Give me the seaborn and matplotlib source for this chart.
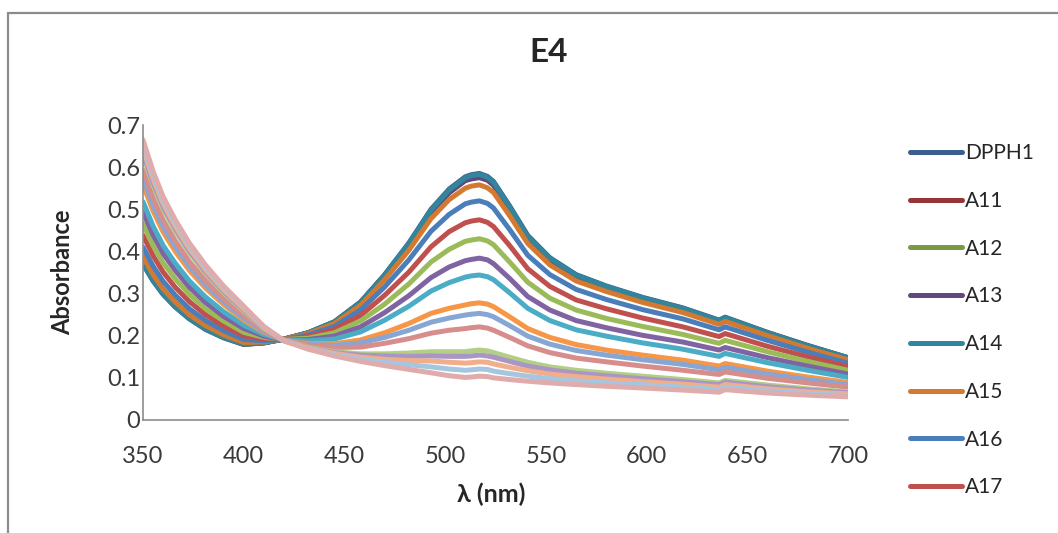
import pandas as pd
import matplotlib
matplotlib.use("Agg")
import matplotlib.pyplot as plt
import seaborn as sns
from matplotlib.lines import Line2D
from matplotlib.patches import Rectangle

wavelength = [350, 355, 360, 366, 373, 381, 390, 400, 410, 420, 432, 445, 458, 470, 482, 493,
              502, 510, 513, 517, 521, 524, 532, 541, 552, 565, 580, 598, 618, 636, 639, 660, 680, 700]

dpph1 = [.370, .330, .298, .268, .240, .215, .195, .179, .183, .192, .207, .233, .280, .345, .420, .500,
         .548, .577, .582, .585, .578, .566, .508, .438, .385, .345, .318, .291, .266, .237, .244, .208, .177, .148]
a11 = [.373, .333, .300, .270, .242, .217, .196, .180, .183, .192, .207, .232, .279, .343, .417, .496,
       .544, .572, .577, .580, .573, .561, .504, .435, .382, .342, .316, .289, .264, .235, .242, .207, .176, .147]
a12 = [.374, .334, .301, .271, .243, .217, .197, .180, .184, .192, .206, .232, .278, .342, .416, .494,
       .541, .570, .575, .578, .571, .559, .502, .433, .381, .341, .314, .288, .263, .234, .241, .206, .175, .147]
a13 = [.376, .335, .303, .272, .244, .218, .198, .181, .184, .192, .206, .231, .277, .341, .414, .492,
       .539, .568, .572, .575, .569, .557, .500, .431, .379, .340, .313, .287, .262, .234, .241, .205, .175, .146]
a14 = [.371, .331, .299, .269, .241, .216, .196, .180, .183, .192, .207, .233, .279, .344, .419, .498,
       .546, .575, .580, .583, .576, .564, .506, .436, .384, .344, .317, .290, .265, .236, .243, .207, .176, .148]
a15 = [.387, .345, .311, .280, .250, .224, .202, .184, .185, .192, .205, .229, .272, .333, .403, .478,
       .523, .550, .555, .558, .551, .540, .485, .419, .368, .330, .305, .279, .255, .227, .234, .200, .170, .143]
a16 = [.410, .365, .329, .296, .264, .236, .212, .191, .188, .191, .202, .222, .261, .316, .380, .448,
       .488, .513, .517, .520, .514, .503, .452, .391, .345, .310, .286, .262, .240, .214, .221, .189, .161, .135]
a17 = [.438, .390, .351, .315, .281, .250, .223, .200, .192, .191, .198, .215, .248, .296, .351, .411,
       .447, .468, .472, .475, .469, .459, .414, .359, .317, .285, .264, .242, .221, .198, .205, .175, .150, .127]
a18 = [.465, .414, .373, .335, .298, .264, .235, .208, .196, .191, .194, .207, .235, .275, .323, .375,
       .405, .424, .427, .430, .425, .416, .375, .327, .289, .261, .241, .222, .203, .182, .189, .162, .139, .118]
a19 = [.493, .439, .395, .355, .315, .279, .246, .217, .199, .190, .191, .199, .221, .255, .295, .338,
       .363, .378, .381, .384, .380, .371, .336, .293, .261, .236, .219, .201, .185, .166, .172, .148, .128, .109]
a110 = [.518, .460, .414, .372, .330, .292, .257, .225, .203, .190, .188, .192, .209, .237, .270, .306,
        .326, .339, .342, .344, .340, .333, .302, .265, .236, .214, .199, .183, .168, .151, .158, .136, .118, .101]
a111 = [.558, .496, .446, .400, .355, .313, .274, .237, .208, .189, .182, .181, .190, .207, .229, .253,
        .265, .273, .276, .278, .275, .269, .245, .217, .196, .179, .166, .154, .142, .128, .134, .116, .102, .089]
a112 = [.574, .509, .458, .411, .364, .321, .280, .242, .210, .189, .180, .177, .183, .196, .213, .232,
        .242, .249, .251, .253, .250, .245, .224, .199, .180, .165, .154, .143, .132, .119, .125, .109, .096, .084]
a113 = [.593, .527, .474, .425, .376, .331, .288, .248, .213, .189, .178, .172, .173, .182, .193, .206,
        .213, .217, .219, .221, .218, .213, .196, .176, .160, .147, .138, .128, .118, .108, .114, .099, .088, .078]
a114 = [.627, .557, .500, .448, .397, .348, .302, .258, .217, .189, .173, .162, .157, .157, .159, .162,
        .162, .162, .164, .166, .164, .160, .149, .137, .126, .118, .111, .104, .096, .088, .094, .083, .074, .067]
a115 = [.634, .563, .506, .454, .401, .352, .305, .261, .218, .188, .172, .160, .154, .152, .151, .152,
        .151, .151, .152, .154, .152, .149, .139, .128, .119, .111, .105, .098, .091, .084, .090, .079, .071, .065]
a116 = [.644, .572, .514, .460, .407, .357, .309, .264, .219, .188, .171, .158, .149, .144, .141, .140,
        .137, .135, .136, .138, .137, .133, .125, .117, .109, .103, .097, .091, .085, .078, .084, .074, .067, .062]
a117 = [.655, .581, .522, .468, .414, .363, .314, .267, .221, .188, .169, .155, .144, .137, .131, .126,
        .121, .118, .119, .121, .120, .116, .110, .104, .098, .093, .088, .084, .078, .072, .078, .069, .063, .058]
a118 = [.665, .590, .530, .475, .420, .368, .318, .270, .222, .188, .168, .152, .139, .129, .120, .112,
        .105, .101, .102, .104, .103, .100, .096, .092, .088, .084, .080, .076, .071, .066, .072, .064, .059, .055]

samples = ["DPPH1", "A11", "A12", "A13", "A14", "A15", "A16", "A17", "A18", "A19",
           "A110", "A111", "A112", "A113", "A114", "A115", "A116", "A117", "A118"]
spectra = [dpph1, a11, a12, a13, a14, a15, a16, a17, a18, a19,
           a110, a111, a112, a113, a114, a115, a116, a117, a118]
colors = ["#3A5F8F", "#963634", "#7A9A42", "#604A7B", "#31859C", "#D47A30", "#4A7EBB", "#C0504D",
          "#9BBB59", "#8064A2", "#4BACC6", "#F79646", "#86A7D4", "#D68D8B", "#B3CF85", "#A996C4",
          "#F2AE8A", "#A5C6E0", "#E0ABAB"]

# long format table for seaborn
rows = []
for name, values in zip(samples, spectra):
    for wl, a in zip(wavelength, values):
        rows.append({"wavelength": wl, "absorbance": a, "sample": name})
df = pd.DataFrame(rows)

sns.set_style("white")
plt.rcParams["font.family"] = ["Lato", "DejaVu Sans"]

fig = plt.figure(figsize=(10.58, 5.33), dpi=100)
ax = fig.add_axes([143 / 1058, 1 - 420 / 533, 705 / 1058, 295 / 533])

sns.lineplot(data=df, x="wavelength", y="absorbance", hue="sample", hue_order=samples,
             palette=colors, linewidth=3.6, legend=False, ax=ax, estimator=None, sort=False)
for line in ax.get_lines():
    line.set_solid_joinstyle("round")
    line.set_solid_capstyle("round")

ax.set_xlim(350, 700)
ax.set_ylim(0, 0.7)
ax.set_xticks([350, 400, 450, 500, 550, 600, 650, 700])
ax.set_yticks([0, 0.1, 0.2, 0.3, 0.4, 0.5, 0.6, 0.7])
ax.set_yticklabels(["0", "0.1", "0.2", "0.3", "0.4", "0.5", "0.6", "0.7"])
ax.tick_params(axis="both", length=0, labelsize=17, colors="#3A3A3A")
ax.tick_params(axis="x", pad=19)
ax.tick_params(axis="y", pad=2)
for side in ["top", "right"]:
    ax.spines[side].set_visible(False)
for side in ["left", "bottom"]:
    ax.spines[side].set_color("#8C8C8C")
    ax.spines[side].set_linewidth(1.2)

ax.set_xlabel("λ (nm)", fontsize=18, fontweight="bold")
ax.set_ylabel("Absorbance", fontsize=17, fontweight="bold")
ax.xaxis.set_label_coords((491 - 143) / 705, -(483 - 420) / 295)
ax.yaxis.set_label_coords(-(143 - 74) / 705, 0.5)
fig.text(549 / 1058, 1 - 53 / 533, "E4", ha="center", va="center", fontsize=24, fontweight="bold")

# the chart box only has room for the first eight entries
handles = [Line2D([0], [0], color=c, linewidth=3.6, solid_capstyle="round") for c in colors[:8]]
ax.legend(handles, samples[:8], loc="upper left", bbox_to_anchor=(902 / 1058, 1 - 135 / 533),
          bbox_transform=fig.transFigure, frameon=False, fontsize=15, handlelength=2.5,
          handletextpad=0.12, labelspacing=1.33, borderaxespad=0)

# outer chart frame (cut off on the right and bottom)
fig.patches.append(Rectangle((8 / 1058, -0.1), 1.2, 1.1 - 13 / 533, transform=fig.transFigure,
                             fill=False, edgecolor="#8C8C8C", linewidth=1.6))

fig.savefig("out.png", dpi=100)
